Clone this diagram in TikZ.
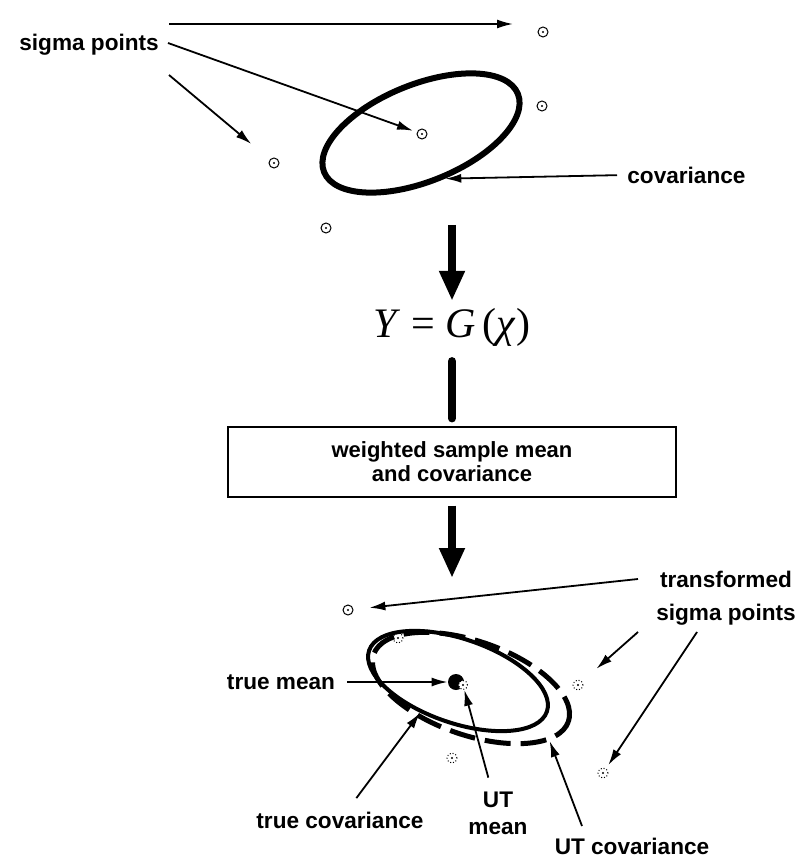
\documentclass[tikz,border=0pt]{standalone}
\usepackage{fontspec}
\setsansfont{Liberation Sans}
\newfontfamily\eqfont{Liberation Serif}
\usepackage{tikz}
\usetikzlibrary{positioning,arrows.meta,shapes.geometric,calc}
\definecolor{ink}{HTML}{000000}

\begin{document}
\begin{tikzpicture}[x=0.5pt,y=-0.5pt,
  every node/.style={font=\fontsize{11.3}{13.5}\selectfont\sffamily\bfseries, text=ink},
  spt/.style={circle, draw=ink, line width=.5pt, minimum size=5pt, inner sep=0pt},
  tpt/.style={spt, densely dotted},
  lbl/.style={align=center, inner sep=1pt},
  sigell/.style={ellipse, draw=ink, line width=3pt, inner sep=0pt},
  ptr/.style={draw=ink, line width=.9pt, -{Latex[length=8pt,width=4.5pt]}},
  flow/.style={draw=ink, line width=4pt, -{Triangle[length=15pt,width=12pt]}},
  shaft/.style={draw=ink, line width=4pt, line cap=round},
  wsum/.style={draw=ink, line width=.6pt, minimum width=224pt, minimum height=35pt,
               align=center, font=\fontsize{11}{12}\selectfont\sffamily\bfseries},
]
  \useasboundingbox (0,0) rectangle (796,861);

  % Sigma points and covariance
  \node[lbl, anchor=west] (sig) at (17,45) {sigma points};
  \node[sigell, rotate=22, minimum width=104.5pt, minimum height=48.5pt] (cloud) at (421,133) {};
  \foreach \n/\x/\y in {s1/543/32, s2/422/134, s3/274/163, s4/542/106, s5/326/228} {
    \node[spt] (\n) at (\x,\y) {};
    \fill[ink] (\n) circle[radius=.6pt];
  }
  \coordinate (a1) at (169,24);
  \coordinate (a2) at (168,43);
  \coordinate (a3) at (169,75);
  \draw[ptr, shorten >=15pt] (a1) -- (a1 -| s1);
  \draw[ptr, shorten >=2pt] (a2) -- (s2);
  \draw[ptr, shorten >=12pt] (a3) -- (s3);
  \node[lbl, anchor=west] (cov) at (625,175) {covariance};
  \draw[ptr, shorten <=4pt] (cov.west) -- (cloud.-84);

  % Transform and weighted sums
  \coordinate (g0) at (452,225);
  \node (eq) at (452,327) {\eqfont\fontsize{21}{24}\selectfont\mdseries
    \textit{Y} = \textit{G}\,(\textit{χ})};
  \node[wsum] (box) at (452,462) {weighted sample mean\\and covariance};
  \coordinate (g1) at (452,578);
  \draw[flow] (g0) -- (eq);
  \draw[shaft, shorten <=4pt, shorten >=4pt] (eq) -- (box);
  \draw[flow, shorten <=4pt] (box) -- (g1);

  % Transformed points, true and UT estimates
  \node[sigell, line width=2pt, rotate=-19, minimum width=94pt, minimum height=42pt] (tc) at (458,681) {};
  \node[sigell, line width=2.5pt, dash pattern=on 13pt off 5pt, rotate=-19,
        minimum width=103pt, minimum height=47pt] (uc) at (471,688) {};
  \node[spt] (t1) at (348,610) {};
  \fill[ink] (t1) circle[radius=.6pt];
  \foreach \n/\x/\y in {t2/398/638, t3/452/758, t4/578/685, t5/603/773} {
    \node[tpt] (\n) at (\x,\y) {};
    \fill[ink] (\n) circle[radius=.6pt];
  }
  \node[circle, fill=ink, minimum size=8pt, inner sep=0pt] (tm) at (456,682) {};
  \node[tpt, fill=white, minimum size=4.5pt] (um) at (463,685) {};
  \fill[ink] (um) circle[radius=.6pt];

  \node[lbl] (tsl) at (726,598) {transformed\\[3pt]sigma points};
  \coordinate (ta1) at (638,579);
  \coordinate (ta2) at (638,632);
  \coordinate (ta3) at (697,632);
  \draw[ptr, shorten >=8pt] (ta1) -- (t1);
  \draw[ptr, shorten >=9.5pt] (ta2) -- (t4);
  \draw[ptr, shorten >=2pt] (ta3) -- (t5);

  \node[lbl] (tml) at (281,682) {true mean};
  \draw[ptr, shorten <=5pt] (tml) -- (tm);
  \node[lbl] (tcl) at (340,820) {true covariance};
  \draw[ptr, shorten <=7pt] (tcl) -- (tc.239);
  \node[lbl] (uml) at (498,813) {UT\\mean};
  \draw[ptr, shorten <=6pt] (uml) -- (um);
  \node[lbl] (ucl) at (632,846) {UT covariance};
  \coordinate (ucs) at (582,826);
  \draw[ptr] (ucs) -- (uc.-15);
\end{tikzpicture}
\end{document}
